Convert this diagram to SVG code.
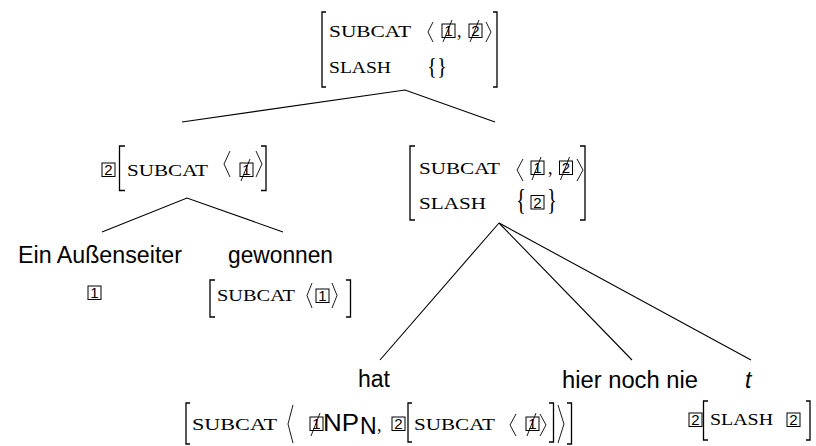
<svg xmlns="http://www.w3.org/2000/svg" width="816" height="446" viewBox="0 0 816 446">
<style>
.sc{font-family:"Liberation Serif","DejaVu Serif",serif;font-size:16px;fill:#000}
.rm{font-family:"Liberation Serif","DejaVu Serif",serif;fill:#000}
.ss{font-family:"Liberation Sans",Arial,sans-serif;font-size:23px;fill:#000}
.dg{font-family:"Liberation Sans",Arial,sans-serif;font-size:15px;fill:#000;text-anchor:middle}
.bx{fill:none;stroke:#000;stroke-width:1}
.br{fill:none;stroke:#000;stroke-width:1.3}
.ab{fill:none;stroke:#000;stroke-width:0.9}
.sl{stroke:#000;stroke-width:0.9}
.ln{stroke:#000;stroke-width:1.1;fill:none}
</style>
<defs>
<g id="b1"><rect class="bx" x="0" y="0" width="13" height="13.5"/><text class="dg" x="6.5" y="12">1</text></g>
<g id="b2"><rect class="bx" x="0" y="0" width="13" height="13.5"/><text class="dg" x="6.5" y="12">2</text></g>
</defs>
<g id="connectors">
<polyline class="ln" points="182,122 405,90 495,122"/>
<polyline class="ln" points="102,232 187,198 283,232"/>
<line class="ln" x1="499" y1="223" x2="380" y2="360"/>
<line class="ln" x1="499" y1="223" x2="632" y2="360"/>
<line class="ln" x1="499" y1="223" x2="751" y2="360"/>
</g>
<g id="root">
<path class="br" d="M326,12 H322 V87 H326"/>
<path class="br" d="M493,12 H497 V87 H493"/>
<text class="sc" x="329" y="37" textLength="82" lengthAdjust="spacingAndGlyphs">SUBCAT</text>
<polyline class="ab" points="433,22 428,32 433,42"/>
<use href="#b1" x="442" y="24"/>
<line class="sl" x1="443" y1="42" x2="452" y2="20"/>
<text class="rm" x="457" y="37" font-size="18">,</text>
<use href="#b2" x="469" y="24"/>
<line class="sl" x1="470" y1="42" x2="479" y2="20"/>
<polyline class="ab" points="486,22 491,32 486,42"/>
<text class="sc" x="329" y="73" textLength="62" lengthAdjust="spacingAndGlyphs">SLASH</text>
<text class="rm" x="427" y="74" font-size="23" textLength="20" lengthAdjust="spacingAndGlyphs">{}</text>
</g>
<g id="left">
<use href="#b2" x="102" y="163"/>
<path class="br" d="M125,146 H119.5 V190.5 H125"/>
<text class="sc" x="127" y="176" textLength="81" lengthAdjust="spacingAndGlyphs">SUBCAT</text>
<polyline class="ab" points="230,151 224,164 230,177"/>
<use href="#b1" x="240" y="163"/>
<line class="sl" x1="241" y1="181" x2="250" y2="159"/>
<polyline class="ab" points="256,151 262,164 256,177"/>
<path class="br" d="M261,146 H266 V190.5 H261"/>
</g>
<g id="right">
<path class="br" d="M415,146 H410 V220 H415"/>
<path class="br" d="M580,146 H585 V220 H580"/>
<text class="sc" x="419" y="174" textLength="81" lengthAdjust="spacingAndGlyphs">SUBCAT</text>
<polyline class="ab" points="523,159 517,170 523,181"/>
<use href="#b1" x="531" y="161"/>
<line class="sl" x1="532" y1="180" x2="541" y2="157"/>
<text class="rm" x="548" y="174" font-size="18">,</text>
<use href="#b2" x="559.5" y="161"/>
<line class="sl" x1="560.5" y1="180" x2="569.5" y2="157"/>
<polyline class="ab" points="577,159 583,170 577,181"/>
<text class="sc" x="419" y="209" textLength="67" lengthAdjust="spacingAndGlyphs">SLASH</text>
<text class="rm" x="516" y="209" font-size="30" textLength="10" lengthAdjust="spacingAndGlyphs">{</text>
<use href="#b2" x="531" y="195.5"/>
<text class="rm" x="547" y="209" font-size="30" textLength="10" lengthAdjust="spacingAndGlyphs">}</text>
</g>
<g id="aussenseiter">
<text class="ss" x="18" y="263" textLength="164" lengthAdjust="spacingAndGlyphs">Ein Außenseiter</text>
<use href="#b1" x="88" y="286"/>
</g>
<g id="gewonnen">
<text class="ss" x="228" y="263" textLength="105" lengthAdjust="spacingAndGlyphs">gewonnen</text>
<path class="br" d="M215,280 H210 V317 H215"/>
<text class="sc" x="217" y="301" textLength="78" lengthAdjust="spacingAndGlyphs">SUBCAT</text>
<polyline class="ab" points="312,283 307,295.5 312,308"/>
<use href="#b1" x="316" y="289"/>
<polyline class="ab" points="332,283 337,295.5 332,308"/>
<path class="br" d="M346,280 H350.5 V317 H346"/>
</g>
<g id="hat">
<text class="ss" x="358" y="387">hat</text>
<path class="br" d="M190,403 H186 V444 H190"/>
<text class="sc" x="192" y="430" textLength="85" lengthAdjust="spacingAndGlyphs">SUBCAT</text>
<polyline class="ab" points="293,405 288,424 293,443"/>
<use href="#b1" x="310" y="417"/>
<line class="sl" x1="311" y1="436" x2="320" y2="413"/>
<text class="ss" x="323" y="431" font-size="24" textLength="36" lengthAdjust="spacingAndGlyphs">NP</text>
<text class="ss" x="360" y="434" font-size="15">N</text>
<text class="rm" x="377" y="431" font-size="18">,</text>
<use href="#b2" x="392" y="417"/>
<path class="br" d="M412,403 H408 V442 H412"/>
<text class="sc" x="414" y="430" textLength="81" lengthAdjust="spacingAndGlyphs">SUBCAT</text>
<polyline class="ab" points="516,414 510,425 516,436"/>
<use href="#b1" x="526" y="417"/>
<line class="sl" x1="527" y1="436" x2="536" y2="413"/>
<polyline class="ab" points="540,414 546,425 540,436"/>
<path class="br" d="M549,403 H553.5 V442 H549"/>
<polyline class="ab" points="558,405 564,424 558,443"/>
<path class="br" d="M567,403 H571.5 V444 H567"/>
</g>
<g id="hiernochnie">
<text class="ss" x="562" y="388" textLength="136" lengthAdjust="spacingAndGlyphs">hier noch nie</text>
</g>
<g id="trace">
<text class="ss" x="745" y="388" font-style="italic">t</text>
<use href="#b2" x="689" y="413"/>
<path class="br" d="M708,401 H703.5 V440 H708"/>
<text class="sc" x="710" y="425" textLength="63" lengthAdjust="spacingAndGlyphs">SLASH</text>
<use href="#b2" x="787" y="413"/>
<path class="br" d="M806,401 H810 V440 H806"/>
</g>
</svg>
